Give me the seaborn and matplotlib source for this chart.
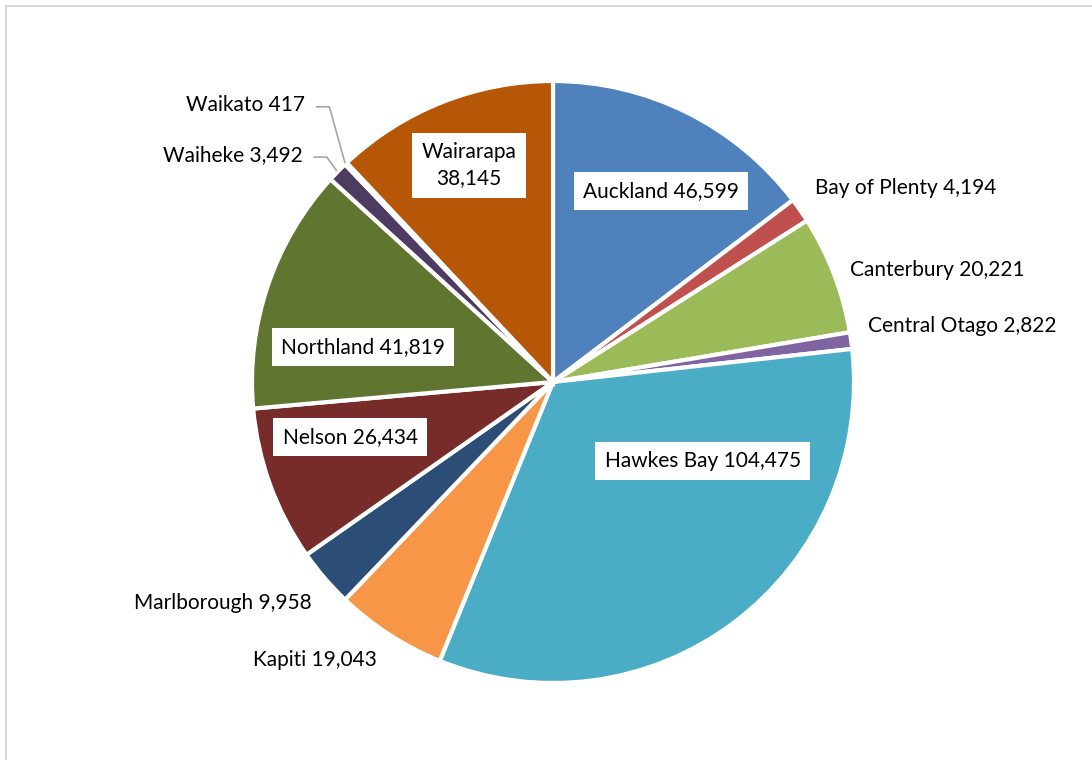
import matplotlib
matplotlib.use("Agg")
import matplotlib.pyplot as plt
from matplotlib.lines import Line2D
import numpy as np
import seaborn as sns

# Values by region
regions = ["Auckland", "Bay of Plenty", "Canterbury", "Central Otago", "Hawkes Bay",
           "Kapiti", "Marlborough", "Nelson", "Northland", "Waiheke", "Waikato", "Wairarapa"]
values = [46599, 4194, 20221, 2822, 104475, 19043, 9958, 26434, 41819, 3492, 417, 38145]
colors = ["#4F81BD", "#C0504D", "#9BBB59", "#8064A2", "#4BACC6", "#F79646",
          "#2C4D75", "#772C2A", "#5F7530", "#4D3B62", "#276A7C", "#B65708"]

# Label layout per region: (placement, radial distance in radii, angular shift in degrees clockwise)
label_layout = [
    ("inside", 0.729, 3.1),
    ("right", 1.083, -1.7),
    ("right", 1.055, 0.3),
    ("right", 1.063, -2.2),
    ("inside", 0.563, -25.1),
    ("left", 1.093, -0.6),
    ("left", 1.086, -1.8),
    ("inside", 0.698, 4.9),
    ("inside", 0.642, -8.2),
    ("leader", 1.122, -2.1),
    ("leader", 1.235, 1.7),
    ("inside2", 0.773, 0.4),
]

sns.set_theme(style="white")
plt.rcParams["font.family"] = ["Lato", "DejaVu Sans"]

W, H = 1092, 760
fig = plt.figure(figsize=(W / 100, H / 100), dpi=100)
ax = fig.add_axes([0, 0, 1, 1])

cx, cy, R = 553, 378, 301
wedges, _ = ax.pie(values, colors=colors, startangle=90, counterclock=False,
                   center=(cx, cy), radius=R,
                   wedgeprops=dict(edgecolor="white", linewidth=3))
ax.set_xlim(0, W)
ax.set_ylim(0, H)
ax.set_aspect("equal")
ax.axis("off")

FS = 15
for name, val, w, (kind, dist, shift) in zip(regions, values, wedges, label_layout):
    mid = (w.theta1 + w.theta2) / 2.0
    ang = np.deg2rad(mid - shift)
    x = cx + dist * R * np.cos(ang)
    y = cy + dist * R * np.sin(ang)
    text = f"{name} {val:,}"
    if kind in ("inside", "inside2"):
        if kind == "inside2":
            text = f"{name}\n{val:,}"
        ax.text(x, y, text, ha="center", va="center", fontsize=FS, color="black",
                linespacing=1.4,
                bbox=dict(boxstyle="square,pad=0.45", fc="white", ec="none"))
    elif kind == "right":
        ax.text(x, y, text, ha="left", va="center", fontsize=FS, color="black")
    elif kind == "left":
        ax.text(x, y, text, ha="right", va="center", fontsize=FS, color="black")
    else:
        ax.text(x, y, text, ha="right", va="center", fontsize=FS, color="black")
        # leader line: short horizontal run, then to the wedge rim
        midr = np.deg2rad(mid)
        ex = cx + 1.005 * R * np.cos(midr)
        ey = cy + 1.005 * R * np.sin(midr)
        ax.add_line(Line2D([x + 11, x + 24, ex], [y - 2, y - 2, ey],
                           color="#A6A6A6", lw=1.2))

# chart frame (top and left edges)
fig.add_artist(Line2D([6 / W, 1], [1 - 5.5 / H, 1 - 5.5 / H], color="#D9D9D9", lw=1.5,
                      transform=fig.transFigure))
fig.add_artist(Line2D([5.5 / W, 5.5 / W], [0, 1 - 5.5 / H], color="#D9D9D9", lw=1.5,
                      transform=fig.transFigure))

fig.savefig("out.png", dpi=100, facecolor="white")
